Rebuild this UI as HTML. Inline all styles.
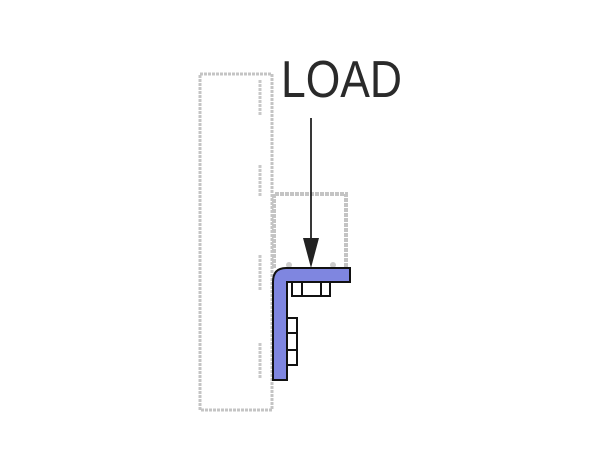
<!DOCTYPE html>
<html><head><style>body{margin:0;background:#fff}</style></head><body>
<svg width="600" height="450" xmlns="http://www.w3.org/2000/svg">
<rect width="600" height="450" fill="#fff"/>
<g fill="none" stroke="#c4c4c4" stroke-width="3" stroke-dasharray="3 1">
<rect x="200" y="74" width="72" height="336"/>
</g>
<path d="M274 268 V194 H346 V268" fill="none" stroke="#c4c4c4" stroke-width="4" stroke-dasharray="4 1"/>
<g stroke="#c8c8c8" stroke-width="3" stroke-dasharray="3 1">
<line x1="260" y1="80" x2="260" y2="116"/><line x1="260" y1="165" x2="260" y2="196"/>
<line x1="260" y1="255" x2="260" y2="290"/><line x1="260" y1="343" x2="260" y2="378"/>
</g>
<circle cx="289" cy="265" r="3" fill="#ccc"/><circle cx="333" cy="265" r="3" fill="#ccc"/>
<path d="M286 268 H350 V282 H287 V380 H273 V282 Q273 268 286 268 Z" fill="#7f86e0" stroke="#111" stroke-width="2"/>
<g fill="#fff" stroke="#111" stroke-width="2">
<rect x="292" y="282" width="38" height="14"/><line x1="302" y1="282" x2="302" y2="296"/><line x1="321" y1="282" x2="321" y2="296"/>
<rect x="287" y="318" width="10" height="47"/><line x1="287" y1="333" x2="297" y2="333"/><line x1="287" y1="350" x2="297" y2="350"/>
</g>
<line x1="311" y1="118" x2="311" y2="240" stroke="#222" stroke-width="1.8"/>
<polygon points="303,238 319,238 311,268" fill="#222"/>
<text x="281" y="97" font-family="Liberation Sans, sans-serif" font-size="52" fill="#2a2a2a" textLength="121" lengthAdjust="spacingAndGlyphs">LOAD</text>
</svg>
</body></html>
